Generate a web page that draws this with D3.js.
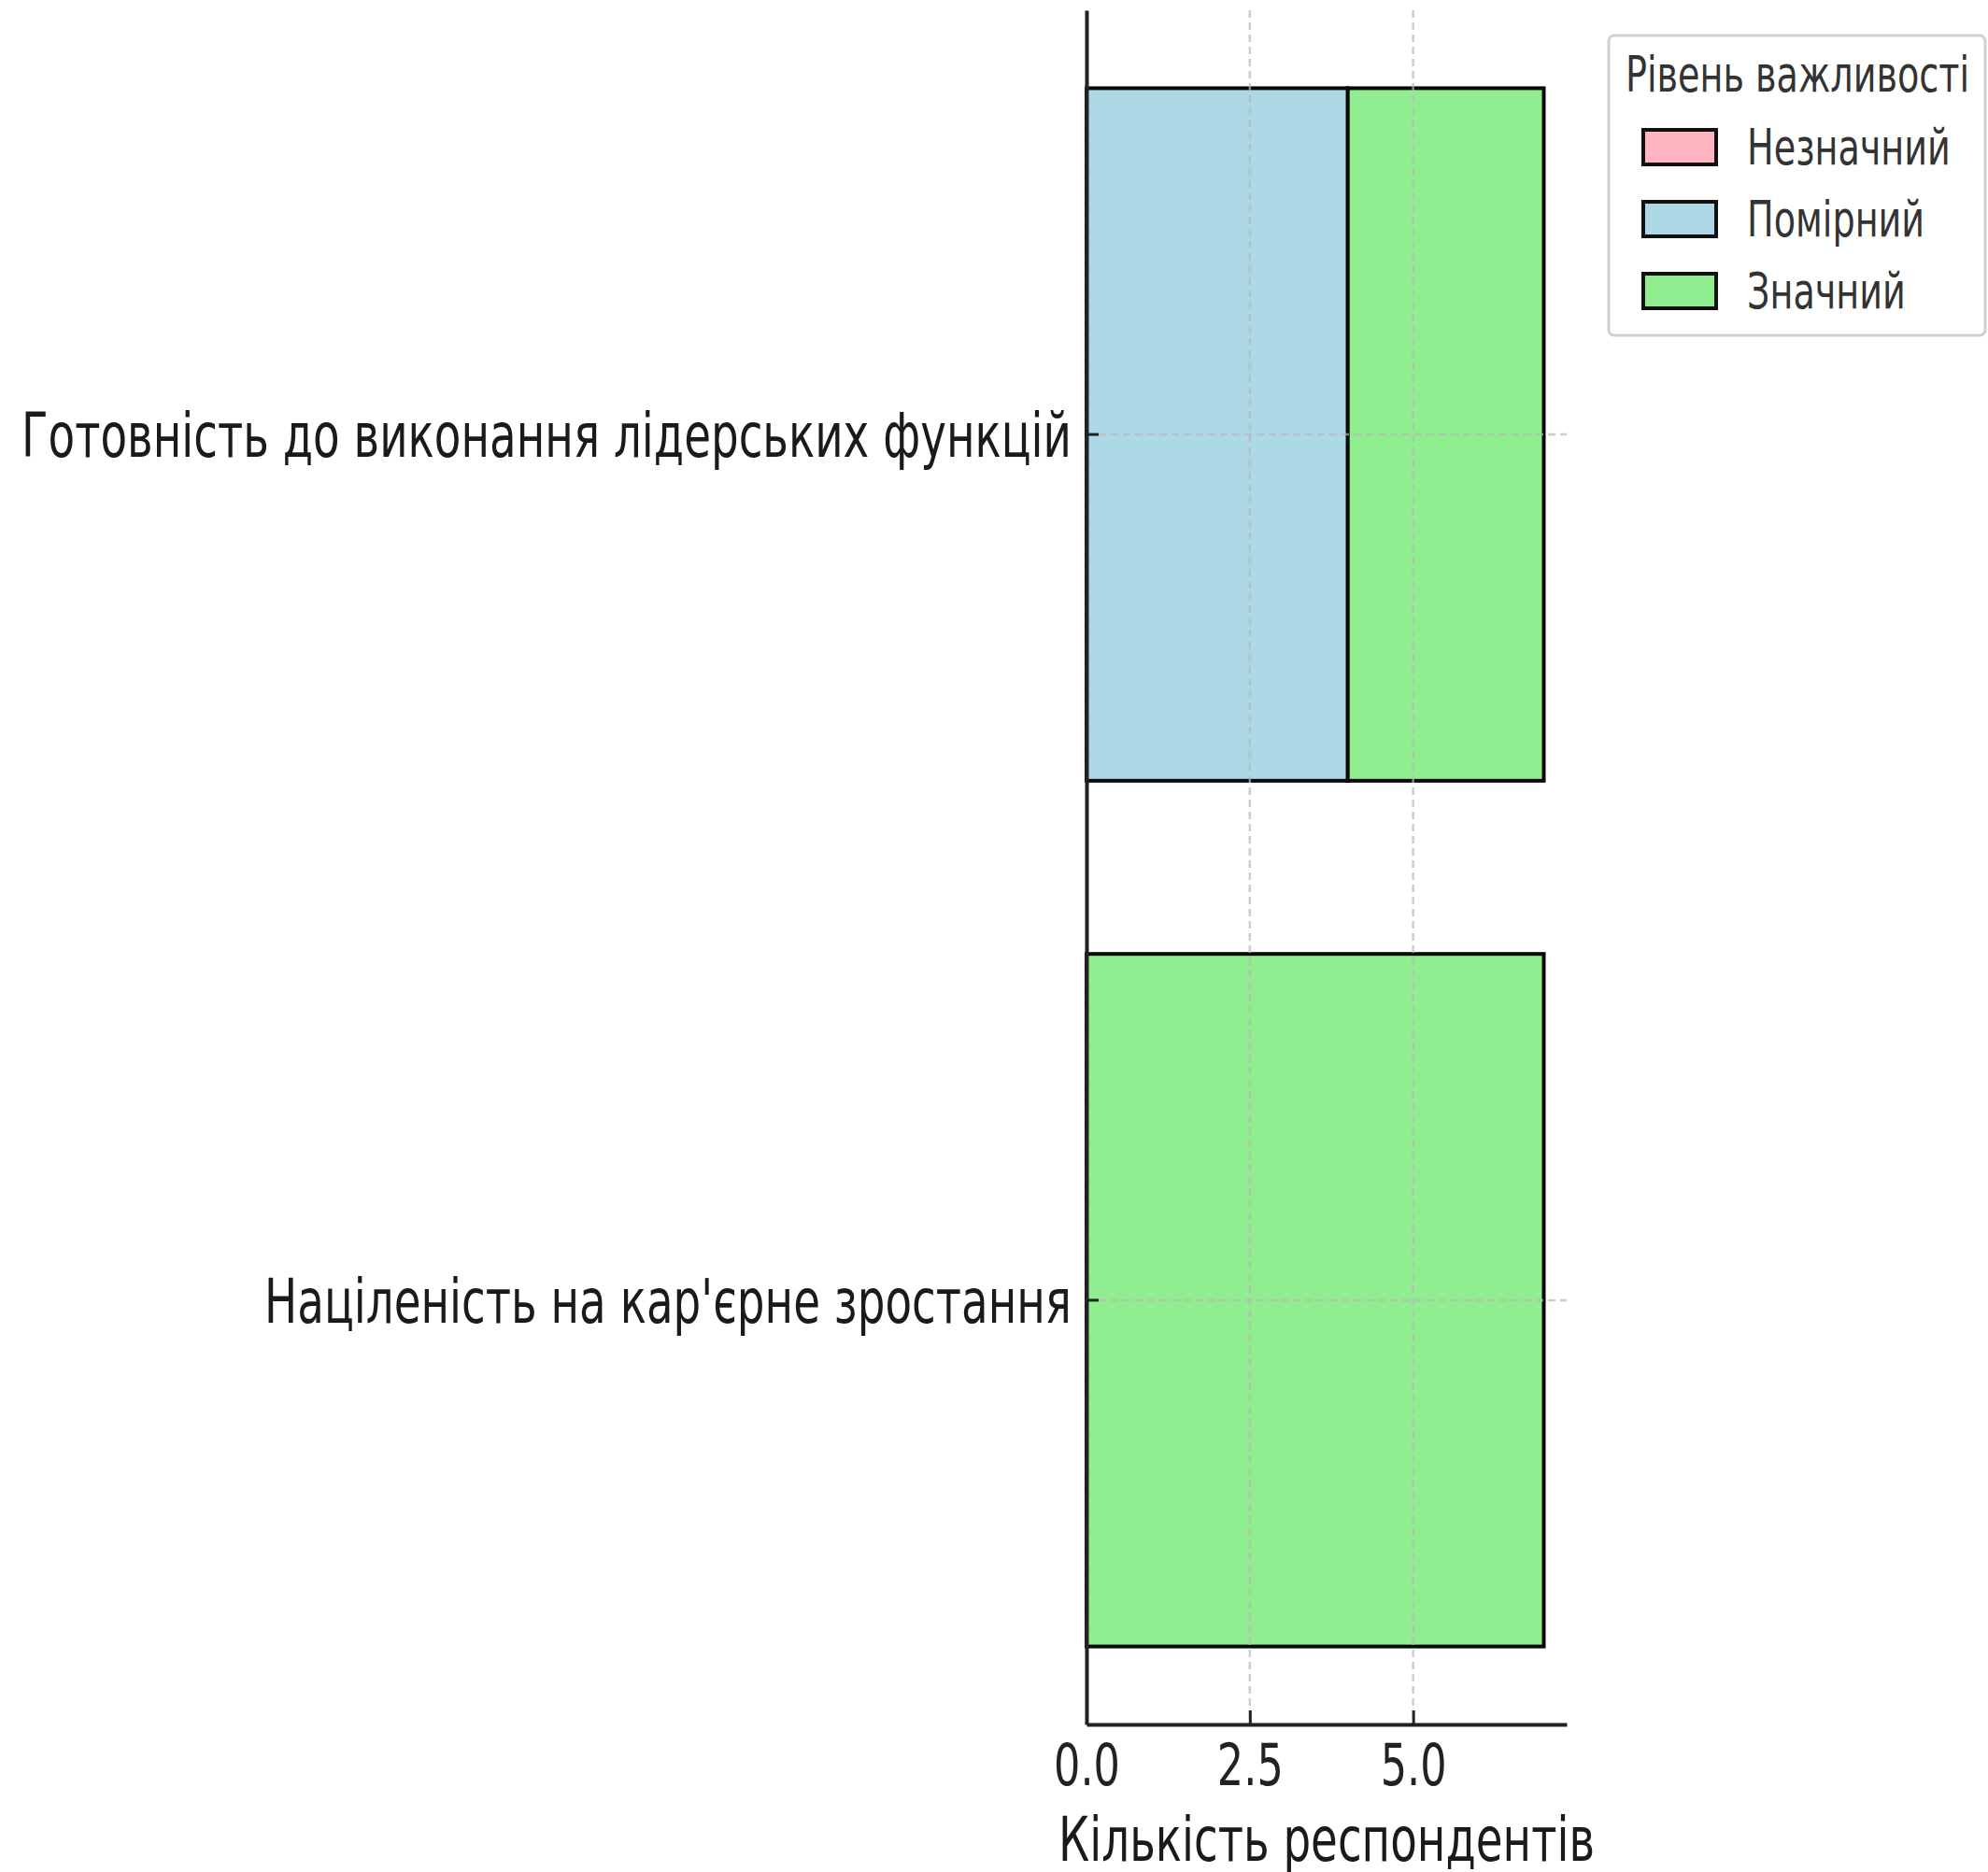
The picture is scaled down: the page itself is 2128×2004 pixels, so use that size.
<!DOCTYPE html>
<html>
<head>
<meta charset="utf-8">
<script src="https://cdn.jsdelivr.net/npm/d3@7"></script>
<style>
  body { margin: 0; background: #fff; }
  text { font-family: "DejaVu Sans", sans-serif; }
</style>
</head>
<body>
<script>
// data, top category first
var categories = ["Готовність до виконання лідерських функцій", "Націленість на кар'єрне зростання"];
var levels     = ["Незначний", "Помірний", "Значний"];
var minor      = [0, 0];
var moderate   = [4, 0];
var major      = [3, 7];
var xTicks     = [0, 2.5, 5.0];
var colors     = ["#ffb6c1", "#add8e6", "#90ee90"];

var w = 2128, h = 2004;
var pLeft = 1163, pRight = 1677, pTop = 11, pBottom = 1846;
var sx = 0.72; // text looks squeezed sideways

var svg = d3.select("body").append("svg")
  .attr("width", w)
  .attr("height", h);

svg.append("rect").attr("width", w).attr("height", h).attr("fill", "#fff");

var xScale = d3.scaleLinear()
  .domain([0, 7.35])
  .range([pLeft, pRight]);

var yScale = d3.scaleBand()
  .domain(categories)
  .range([pTop, pBottom])
  .paddingInner(0.2)
  .paddingOuter(0.09);

var series = [minor, moderate, major];
var stacked = categories.map(function(c, i) {
  var x0 = 0;
  return series.map(function(s, k) {
    var d = { cat: c, k: k, x0: x0, x1: x0 + s[i] };
    x0 += s[i];
    return d;
  });
});

var bars = svg.append("g");
stacked.forEach(function(row) {
  bars.selectAll(null)
    .data(row.filter(function(d) { return d.x1 > d.x0; }))
    .enter()
    .append("rect")
    .attr("x", function(d) { return xScale(d.x0); })
    .attr("width", function(d) { return xScale(d.x1) - xScale(d.x0); })
    .attr("y", function(d) { return yScale(d.cat); })
    .attr("height", yScale.bandwidth())
    .attr("fill", function(d) { return colors[d.k]; })
    .attr("stroke", "#0a0a0a")
    .attr("stroke-width", 4);
});

// grid on top of bars
var grid = svg.append("g")
  .attr("stroke", "#b8b8b8")
  .attr("stroke-opacity", 0.7)
  .attr("stroke-width", 2.5)
  .attr("stroke-dasharray", "8,5");

grid.selectAll(null)
  .data(xTicks)
  .enter()
  .append("line")
  .attr("x1", function(d) { return xScale(d); })
  .attr("x2", function(d) { return xScale(d); })
  .attr("y1", pTop)
  .attr("y2", pBottom);

grid.selectAll(null)
  .data(categories)
  .enter()
  .append("line")
  .attr("x1", pLeft)
  .attr("x2", pRight)
  .attr("y1", function(d) { return yScale(d) + yScale.bandwidth() / 2; })
  .attr("y2", function(d) { return yScale(d) + yScale.bandwidth() / 2; });

// axes
var xAxis = d3.axisBottom(xScale)
  .tickValues(xTicks)
  .tickFormat(d3.format(".1f"))
  .tickSizeInner(-15)
  .tickSizeOuter(0)
  .tickPadding(0);

var gx = svg.append("g")
  .attr("transform", "translate(0," + pBottom + ")")
  .call(xAxis);

gx.select(".domain").attr("stroke", "#222").attr("stroke-width", 4);
gx.selectAll(".tick line").attr("stroke", "#222").attr("stroke-width", 3);
gx.selectAll(".tick text").remove();
gx.selectAll(".tick")
  .append("text")
  .attr("transform", "translate(0,65) scale(" + sx + ",1)")
  .attr("text-anchor", "middle")
  .attr("fill", "#222")
  .attr("font-size", 62)
  .text(function(d) { return d3.format(".1f")(d); });

var yAxis = d3.axisLeft(yScale)
  .tickSizeInner(-13)
  .tickSizeOuter(0)
  .tickFormat("");

var gy = svg.append("g")
  .attr("transform", "translate(" + pLeft + ",0)")
  .call(yAxis);

gy.select(".domain").attr("stroke", "#222").attr("stroke-width", 4);
gy.selectAll(".tick line").attr("stroke", "#222").attr("stroke-width", 3);
gy.selectAll(".tick text").remove();
gy.selectAll(".tick")
  .append("text")
  .attr("transform", "translate(-16,24) scale(" + sx + ",1)")
  .attr("text-anchor", "end")
  .attr("fill", "#1a1a1a")
  .attr("font-size", 65)
  .text(function(d) { return d; });

// x label
svg.append("text")
  .attr("transform", "translate(" + (pLeft + pRight) / 2 + ",1992) scale(" + sx + ",1)")
  .attr("text-anchor", "middle")
  .attr("fill", "#1a1a1a")
  .attr("font-size", 65)
  .text("Кількість респондентів");

// legend
var legend = svg.append("g");
legend.append("rect")
  .attr("x", 1722)
  .attr("y", 38)
  .attr("width", 403)
  .attr("height", 321)
  .attr("rx", 6)
  .attr("fill", "#fff")
  .attr("stroke", "#d0d0d0")
  .attr("stroke-width", 3);

legend.append("text")
  .attr("transform", "translate(1924,98) scale(" + sx + ",1)")
  .attr("text-anchor", "middle")
  .attr("fill", "#333")
  .attr("font-size", 53)
  .text("Рівень важливості");

var items = legend.selectAll(null)
  .data(levels)
  .enter()
  .append("g")
  .attr("transform", function(d, i) { return "translate(0," + (i * 77) + ")"; });

items.append("rect")
  .attr("x", 1759)
  .attr("y", 139)
  .attr("width", 78)
  .attr("height", 37)
  .attr("fill", function(d, i) { return colors[i]; })
  .attr("stroke", "#111")
  .attr("stroke-width", 4);

items.append("text")
  .attr("transform", "translate(1870,176) scale(" + sx + ",1)")
  .attr("fill", "#333")
  .attr("font-size", 53)
  .text(function(d) { return d; });
</script>
</body>
</html>
